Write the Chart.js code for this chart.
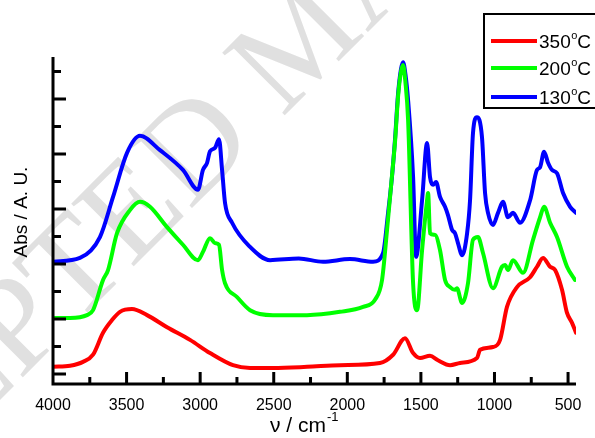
<!DOCTYPE html>
<html><head><meta charset="utf-8">
<script src="https://cdn.jsdelivr.net/npm/chart.js@4/dist/chart.umd.min.js"></script>
<style>html,body{margin:0;padding:0;background:#fff}#wrap{width:595px;height:438px;position:relative}</style>
</head><body><div id="wrap"><canvas id="c" width="595" height="438"></canvas></div>
<script>
const seriesLabels = ['350°C', '200°C', '130°C'];
const seriesColors = ['#ff0000', '#00ff00', '#0000ff'];

const wn350 = [4000,3884,3796,3728,3660,3599,3545,3463,3361,3225,3069,2933,2777,2661,2505,2274,2050,1778,1689,1608,1553,1506,1438,1384,1302,1234,1119,1098,1010,962,915,847,758,711,670,622,588,541,507,473,446];
const abs350 = [0.13,0.15,0.22,0.35,0.75,0.98,1.13,1.18,1.07,0.85,0.62,0.38,0.16,0.11,0.11,0.13,0.16,0.20,0.35,0.65,0.38,0.29,0.33,0.25,0.16,0.20,0.29,0.44,0.49,0.62,1.22,1.58,1.76,1.95,2.11,1.95,1.89,1.53,1.11,0.93,0.75];

const wn200 = [4000,3884,3769,3728,3660,3626,3565,3477,3409,3341,3225,3117,3015,2981,2933,2899,2872,2851,2831,2750,2661,2505,2274,2050,1893,1812,1764,1730,1700,1675,1655,1635,1621,1605,1587,1553,1526,1492,1458,1451,1438,1404,1370,1336,1302,1268,1255,1220,1180,1146,1112,1078,1010,949,928,908,874,806,738,690,663,622,575,507,453];
const abs200 = [1.02,1.02,1.07,1.16,1.71,1.89,2.56,2.98,3.13,3.04,2.67,2.35,2.07,2.22,2.47,2.38,2.35,1.89,1.65,1.40,1.16,1.07,1.07,1.13,1.22,1.35,1.71,2.62,3.5,4.25,5.05,5.5,5.62,5.3,4.62,1.65,1.16,2.25,3.16,3.29,2.56,2.53,2.25,1.71,1.58,1.53,1.56,1.29,1.65,2.44,2.49,2.20,1.56,1.95,1.98,1.89,2.07,1.84,2.44,2.85,3.04,2.75,2.49,1.95,1.71];

const wn130 = [4000,3817,3681,3592,3497,3409,3273,3117,3015,2981,2953,2933,2899,2872,2851,2831,2783,2661,2525,2330,2165,1982,1825,1757,1723,1696,1675,1655,1635,1621,1605,1587,1553,1533,1492,1458,1438,1417,1397,1370,1336,1316,1288,1268,1248,1220,1186,1166,1146,1119,1085,1064,1044,1010,976,942,908,874,826,758,711,690,663,636,609,575,534,486,446];
const abs130 = [2.04,2.11,2.49,3.22,4.02,4.33,4.07,3.71,3.35,3.71,3.84,4.05,4.11,4.27,3.71,3.11,2.75,2.31,2.07,2.10,2.04,2.09,2.04,2.20,2.93,3.6,4.3,5.1,5.55,5.67,5.45,4.98,3.58,2.13,3.16,4.20,3.58,3.44,3.49,3.22,3.04,2.89,2.62,2.56,2.38,2.16,2.56,3.16,4.38,4.67,4.31,3.29,2.93,2.71,2.93,3.13,2.85,2.93,2.75,3.16,3.71,3.76,4.04,3.84,3.71,3.65,3.29,3.04,2.93];

const xTickValues = [4000,3500,3000,2500,2000,1500,1000,500];
const xTickLabels = ['4000','3500','3000','2500','2000','1500','1000','500'];
const xMinorValues = [3750,3250,2750,2250,1750,1250,750];
const yMajorValues = [0,1,2,3,4,5];
const yMinorValues = [0.5,1.5,2.5,3.5,4.5,5.5];

function pts(xs, ys) { return xs.map((x, i) => ({x: x, y: ys[i]})); }

const deco = {
  id: 'deco',
  beforeDraw(chart) {
    const ctx = chart.ctx;
    ctx.save();
    ctx.fillStyle = '#ffffff';
    ctx.fillRect(0, 0, chart.width, chart.height);
    ctx.translate(-235, 635);
    ctx.rotate(-Math.PI / 4);
    ctx.font = '135px "Liberation Serif"';
    ctx.fillStyle = '#e0e0e0';
    ctx.textBaseline = 'alphabetic';
    ctx.fillText('ACCEPTED MANUSCRIPT', 0, 0);
    ctx.restore();
  },
  afterDraw(chart) {
    const ctx = chart.ctx;
    const a = chart.chartArea;
    const xs = chart.scales.x, ys = chart.scales.y;
    ctx.save();
    ctx.strokeStyle = '#000';
    ctx.lineWidth = 3;
    ctx.lineCap = 'butt';
    ctx.beginPath();
    ctx.moveTo(a.left, a.top); ctx.lineTo(a.left, a.bottom + 1.5);
    ctx.moveTo(a.left - 1.5, a.bottom); ctx.lineTo(a.right, a.bottom);
    xTickValues.forEach(v => { const p = xs.getPixelForValue(v); if (v !== 4000) { ctx.moveTo(p, a.bottom); ctx.lineTo(p, a.bottom - 12); } });
    xMinorValues.forEach(v => { const p = xs.getPixelForValue(v); ctx.moveTo(p, a.bottom); ctx.lineTo(p, a.bottom - 7); });
    yMajorValues.forEach(v => { const p = ys.getPixelForValue(v); ctx.moveTo(a.left, p); ctx.lineTo(a.left + 13, p); });
    yMinorValues.forEach(v => { const p = ys.getPixelForValue(v); ctx.moveTo(a.left, p); ctx.lineTo(a.left + 8, p); });
    ctx.stroke();

    // y axis title
    ctx.fillStyle = '#000';
    ctx.save();
    ctx.translate(22, 212);
    ctx.rotate(-Math.PI / 2);
    ctx.textAlign = 'center';
    ctx.textBaseline = 'middle';
    ctx.font = '19px "Liberation Sans"';
    ctx.fillText(chart.options.scales.y.title.text, 0, 0);
    ctx.restore();

    // x axis title with superscript
    ctx.textBaseline = 'alphabetic';
    ctx.textAlign = 'left';
    ctx.font = '21px "Liberation Sans"';
    const t = 'ν / cm';
    const w = ctx.measureText(t).width;
    ctx.font = '13px "Liberation Sans"';
    const w2 = ctx.measureText('-1').width;
    const sx = 270;
    ctx.font = '21px "Liberation Sans"';
    ctx.fillText(t, sx, 432);
    ctx.font = '13px "Liberation Sans"';
    ctx.fillText('-1', sx + w + 1, 421);

    // legend
    ctx.lineWidth = 2;
    ctx.strokeStyle = '#000';
    ctx.strokeRect(484, 14, 150, 94);
    const ly = [41, 68, 97];
    chart.data.datasets.forEach((ds, i) => {
      ctx.strokeStyle = ds.borderColor;
      ctx.lineWidth = 4;
      ctx.beginPath();
      ctx.moveTo(491, ly[i]); ctx.lineTo(537, ly[i]);
      ctx.stroke();
      const parts = ds.label.split('°');
      ctx.fillStyle = '#000';
      ctx.font = '19px "Liberation Sans"';
      let x = 539;
      ctx.fillText(parts[0], x, ly[i] + 7);
      x += ctx.measureText(parts[0]).width;
      ctx.font = '11px "Liberation Sans"';
      ctx.fillText('o', x + 0.5, ly[i] - 2);
      x += ctx.measureText('o').width + 0.5;
      ctx.font = '19px "Liberation Sans"';
      ctx.fillText(parts[1], x, ly[i] + 7);
    });
    ctx.restore();
  }
};

new Chart(document.getElementById('c'), {
  type: 'line',
  data: {
    datasets: [
      {label: seriesLabels[0], data: pts(wn350, abs350), borderColor: seriesColors[0]},
      {label: seriesLabels[1], data: pts(wn200, abs200), borderColor: seriesColors[1]},
      {label: seriesLabels[2], data: pts(wn130, abs130), borderColor: seriesColors[2]}
    ]
  },
  options: {
    responsive: false,
    animation: false,
    devicePixelRatio: 1,
    layout: {padding: {top: 57, right: 19, left: 0, bottom: 0}},
    plugins: {legend: {display: false}, tooltip: {enabled: false}},
    elements: {
      point: {radius: 0},
      line: {borderWidth: 4, fill: false, cubicInterpolationMode: 'monotone', borderCapStyle: 'round', borderJoinStyle: 'round'}
    },
    scales: {
      x: {
        type: 'linear', reverse: true, min: 446, max: 4000,
        grid: {display: false, drawTicks: false},
        border: {display: false},
        afterBuildTicks: s => { s.ticks = xTickValues.map(v => ({value: v})); },
        ticks: {autoSkip: false, maxRotation: 0, padding: 12, color: '#000',
          font: {family: 'Liberation Sans', size: 16},
          callback: (v, i) => xTickLabels[i]},
        afterFit: s => { s.height = 54; }
      },
      y: {
        type: 'linear', min: -0.182, max: 5.764,
        grid: {display: false, drawTicks: false},
        border: {display: false},
        ticks: {display: false},
        title: {display: false, text: 'Abs / A. U.'},
        afterFit: s => { s.width = 53; }
      }
    }
  },
  plugins: [deco]
});
</script>
</body></html>
